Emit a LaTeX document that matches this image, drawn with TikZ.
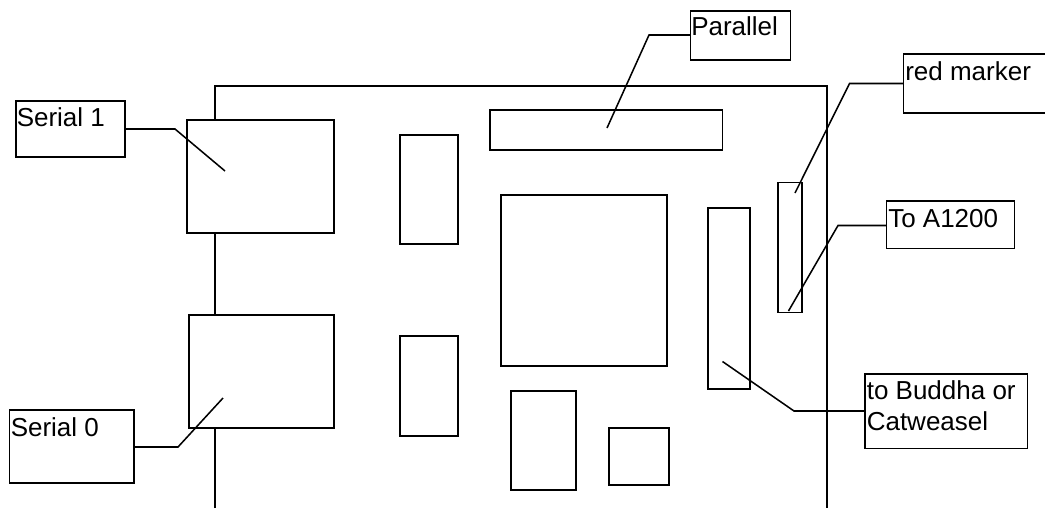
\documentclass[tikz,border=0pt]{standalone}
\usepackage{fontspec}
\setmainfont{Liberation Sans}
\tikzset{
  x=0.75pt,y=-0.75pt,
  wire/.style={draw=black,line width=1.15pt},
  rectbox/.style={draw=black,line width=1.15pt,fill=white,rectangle,inner sep=0pt,outer sep=0pt},
  lbl/.style={anchor=base west,inner sep=0pt,font=\fontsize{19.5}{23.25}\selectfont,text=black},
}
\newcommand{\pcbbox}[5]{%
  \pgfmathsetmacro{\bw}{(#4-#2)*0.75}%
  \pgfmathsetmacro{\bh}{(#5-#3)*0.75}%
  \node[rectbox,minimum width=\bw pt,minimum height=\bh pt] (#1) at ({(#2+#4)/2},{(#3+#5)/2}) {};%
}
\begin{document}
\begin{tikzpicture}
\useasboundingbox[fill=white] (0,0) rectangle (1045,508);
% board outline
\coordinate (b1) at (215,508);
\coordinate (b2) at (215,86);
\coordinate (b3) at (827,86);
\coordinate (b4) at (827,508);
\draw[wire] (b1) -- (b2) -- (b3) -- (b4);
% parts
\pcbbox{ser1}{187}{120}{334}{233}
\pcbbox{ser0}{189}{315}{334}{428}
\pcbbox{icA}{400}{135}{458}{244}
\pcbbox{icB}{400}{336}{458}{436}
\pcbbox{par}{490}{110}{722.5}{150}
\pcbbox{cpu}{501}{195}{667}{366}
\pcbbox{conB}{708}{208}{750}{389}
\pcbbox{conA}{778}{182.5}{802}{312.5}
\pcbbox{icC}{511}{391}{576}{490}
\pcbbox{icD}{609}{428}{669}{485}
% label boxes
\pcbbox{lSerA}{16}{101}{125}{157}
\pcbbox{lSerB}{9.5}{410}{134}{483}
\pcbbox{lPar}{690.5}{11}{790.5}{60}
\pcbbox{lRed}{903.5}{54}{1060}{113}
\pcbbox{lAm}{886.5}{201}{1014.5}{248.5}
\pcbbox{lBud}{865}{374}{1027.5}{448.5}
% labels
\node[lbl] (tSerA) at (16.5,126.5) {Serial 1};
\node[lbl] (tSerB) at (10.5,436) {Serial 0};
\node[lbl] (tPar) at (691,35.5) {Parallel};
\node[lbl] (tRed) at (905,80) {red marker};
\node[lbl] (tAm) at (888,227) {To A1200};
\node[lbl] (tBudA) at (866.5,399) {to Buddha or};
\node[lbl] (tBudB) at (866.5,430) {Catweasel};
% leader lines
\coordinate (s1b) at (175,129); \coordinate (s1c) at (225,171);
\draw[wire] (lSerA.east |- s1b) -- (s1b) -- (s1c);
\coordinate (s0b) at (178,447); \coordinate (s0c) at (223,398);
\draw[wire] (lSerB.east |- s0b) -- (s0b) -- (s0c);
\coordinate (pb) at (649,35); \coordinate (pc) at (607,128);
\draw[wire] (lPar.west |- pb) -- (pb) -- (pc);
\coordinate (rb) at (849.5,83.5); \coordinate (rc) at (795,193);
\draw[wire] (lRed.west |- rb) -- (rb) -- (rc);
\coordinate (ab) at (838,225.5); \coordinate (ac) at (788.5,311);
\draw[wire] (lAm.west |- ab) -- (ab) -- (ac);
\coordinate (bb) at (794,411); \coordinate (bc) at (722.5,361.5);
\draw[wire] (lBud.west |- bb) -- (bb) -- (bc);
\end{tikzpicture}
\end{document}
